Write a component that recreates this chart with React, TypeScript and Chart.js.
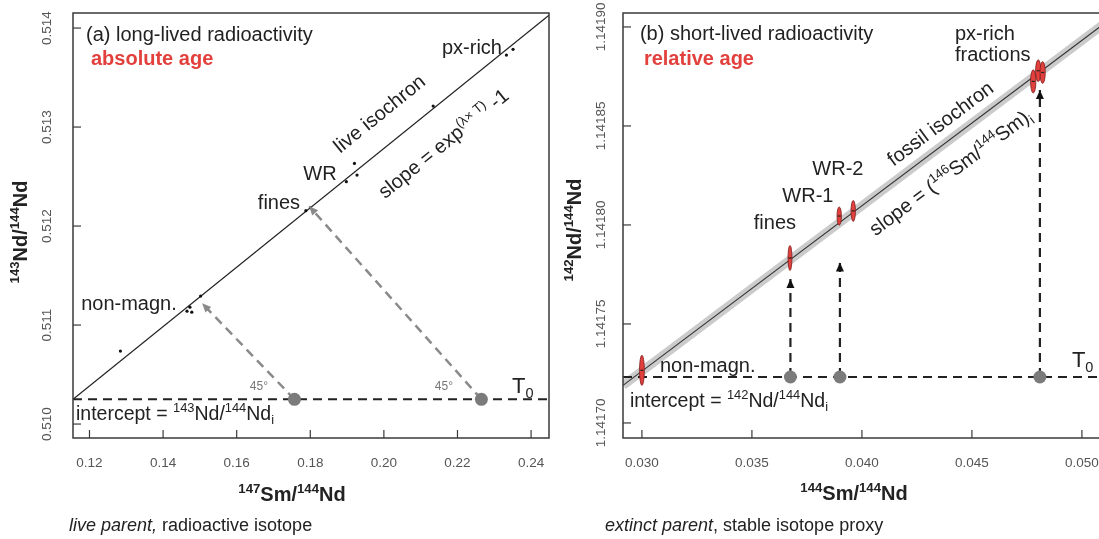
import React, { useEffect, useRef } from "react";
import { Chart, registerables } from "chart.js";
Chart.register(...registerables);

// ---------------- Panel (a): long-lived 147Sm-143Nd ----------------
const aXTicks = [0.12, 0.14, 0.16, 0.18, 0.2, 0.22, 0.24];
const aXTickLabels = ["0.12", "0.14", "0.16", "0.18", "0.20", "0.22", "0.24"];
const aYTicks = [0.51, 0.511, 0.512, 0.513, 0.514];
const aYTickLabels = ["0.510", "0.511", "0.512", "0.513", "0.514"];
const aXRange = [0.11552, 0.24487];
const aYRange = [0.509859, 0.514152];
const aSampleX = [0.1284, 0.1465, 0.1473, 0.1478, 0.1502, 0.1788, 0.1898, 0.192, 0.1927, 0.2134, 0.2333, 0.2351];
const aSampleY = [0.510737, 0.51114, 0.51118, 0.51113, 0.511293, 0.512155, 0.512448, 0.512633, 0.512515, 0.513212, 0.513727, 0.513785];
const aIsoX = [0.11552, 0.24487];
const aIsoY = [0.51025, 0.51413];
const aT0 = 0.51025;
const aDotX = [0.1757, 0.2265];
const aTipX = [0.1506, 0.1797];
const aTipY = [0.51122, 0.5122];

// ---------------- Panel (b): short-lived 146Sm-142Nd ----------------
const bXTicks = [0.03, 0.035, 0.04, 0.045, 0.05];
const bXTickLabels = ["0.030", "0.035", "0.040", "0.045", "0.050"];
const bYTicks = [1.1417, 1.14175, 1.1418, 1.14185, 1.1419];
const bYTickLabels = ["1.14170", "1.14175", "1.14180", "1.14185", "1.14190"];
const bXRange = [0.02914, 0.051049];
const bYRange = [1.1416924, 1.14190705];
const bSampleNames = ["non-magn.", "fines", "WR-1", "WR-2", "px-rich 1", "px-rich 2", "px-rich 3"];
const bSampleX = [0.03, 0.03673, 0.038968, 0.039605, 0.047786, 0.048014, 0.048214];
const bSampleY = [1.1417266, 1.1417833, 1.1418045, 1.1418071, 1.1418725, 1.1418779, 1.141877];
const bSampleXErr = [0.00011, 0.00009, 0.0001, 0.0001, 0.00012, 0.00012, 0.00012];
const bSampleYErr = [0.0000076, 0.0000063, 0.0000046, 0.0000053, 0.0000059, 0.0000055, 0.0000055];
const bIsoX = [0.02914, 0.051049];
const bIsoY = [1.141719, 1.141902];
const bT0 = 1.1417232;
const bDotX = [0.03675, 0.039, 0.04809];
const bTipY = [1.1417727, 1.141781, 1.1418682];

const FONT = '"Liberation Sans", Arial, Helvetica, sans-serif';
const RED = "#e2403c";
const INK = "#222222";

type Seg = { t: string; sup?: boolean; sub?: boolean; it?: boolean };
type Label = {
  segs: Seg[];
  x: number;
  y: number;
  size: number;
  align?: "left" | "center" | "right";
  rot?: number;
  color?: string;
  bold?: boolean;
  px?: boolean;
};

function fontFor(s: Seg, size: number, bold?: boolean) {
  const sz = s.sup || s.sub ? size * 0.66 : size;
  return `${s.it ? "italic " : ""}${bold ? "bold " : ""}${sz}px ${FONT}`;
}

function drawRich(ctx: CanvasRenderingContext2D, l: Label, X: number, Y: number) {
  ctx.save();
  ctx.translate(X, Y);
  if (l.rot) ctx.rotate((l.rot * Math.PI) / 180);
  const ws: number[] = [];
  let total = 0;
  for (const s of l.segs) {
    ctx.font = fontFor(s, l.size, l.bold);
    const w = ctx.measureText(s.t).width;
    ws.push(w);
    total += w;
  }
  let x = l.align === "left" ? 0 : l.align === "right" ? -total : -total / 2;
  ctx.fillStyle = l.color || INK;
  ctx.textAlign = "left";
  ctx.textBaseline = "alphabetic";
  const base = l.size * 0.36;
  l.segs.forEach((s, i) => {
    ctx.font = fontFor(s, l.size, l.bold);
    let dy = base;
    if (s.sup) dy -= l.size * 0.4;
    if (s.sub) dy += l.size * 0.22;
    ctx.fillText(s.t, x, dy);
    x += ws[i];
  });
  ctx.restore();
}

function arrowHead(ctx: CanvasRenderingContext2D, x0: number, y0: number, x1: number, y1: number, color: string, len: number, half: number) {
  const a = Math.atan2(y1 - y0, x1 - x0);
  ctx.save();
  ctx.fillStyle = color;
  ctx.beginPath();
  ctx.moveTo(x1, y1);
  ctx.lineTo(x1 - len * Math.cos(a) + half * Math.sin(a), y1 - len * Math.sin(a) - half * Math.cos(a));
  ctx.lineTo(x1 - len * Math.cos(a) - half * Math.sin(a), y1 - len * Math.sin(a) + half * Math.cos(a));
  ctx.closePath();
  ctx.fill();
  ctx.restore();
}

type PanelSpec = {
  xRange: number[];
  yRange: number[];
  xTicks: number[];
  xTickLabels: string[];
  yTicks: number[];
  yTickLabels: string[];
  yAxisWidth: number;
  padRight: number;
  yLabelOffset: number;
  labels: Label[];
  datasets: any[];
  extra: (chart: any, P: (x: number, y: number) => [number, number]) => void;
};

function makeConfig(p: PanelSpec): any {
  const overlay = {
    id: "overlay",
    afterDatasetsDraw(chart: any) {
      const ctx: CanvasRenderingContext2D = chart.ctx;
      const xs = chart.scales.x;
      const ys = chart.scales.y;
      const P = (x: number, y: number): [number, number] => [xs.getPixelForValue(x), ys.getPixelForValue(y)];
      const ca = chart.chartArea;
      p.extra(chart, P);
      // frame
      ctx.save();
      ctx.strokeStyle = "#3a3a3a";
      ctx.lineWidth = 1.5;
      ctx.strokeRect(ca.left, ca.top, ca.right - ca.left, ca.bottom - ca.top);
      // inward ticks + labels
      ctx.lineWidth = 1.2;
      ctx.fillStyle = "#555";
      ctx.font = `13.5px ${FONT}`;
      ctx.textAlign = "center";
      ctx.textBaseline = "middle";
      xs.ticks.forEach((t: any, i: number) => {
        const x = xs.getPixelForValue(t.value);
        ctx.beginPath();
        ctx.moveTo(x, ca.bottom);
        ctx.lineTo(x, ca.bottom - 8);
        ctx.stroke();
        ctx.fillText(p.xTickLabels[i], x, ca.bottom + 25);
      });
      ys.ticks.forEach((t: any, i: number) => {
        const y = ys.getPixelForValue(t.value);
        ctx.beginPath();
        ctx.moveTo(ca.left, y);
        ctx.lineTo(ca.left + 8, y);
        ctx.stroke();
        ctx.save();
        ctx.translate(ca.left - p.yLabelOffset, y);
        ctx.rotate(-Math.PI / 2);
        ctx.fillText(p.yTickLabels[i], 0, 0);
        ctx.restore();
      });
      ctx.restore();
      for (const l of p.labels) {
        const [X, Y] = l.px ? [l.x, l.y] : P(l.x, l.y);
        drawRich(ctx, l, X, Y);
      }
    },
  };
  return {
    type: "scatter",
    data: { datasets: p.datasets },
    options: {
      animation: false,
      responsive: false,
      events: [],
      layout: { padding: { top: 13, right: p.padRight, left: 0, bottom: 0 } },
      plugins: { legend: { display: false }, tooltip: { enabled: false } },
      scales: {
        x: {
          type: "linear",
          min: p.xRange[0],
          max: p.xRange[1],
          grid: { display: false },
          border: { display: false },
          ticks: { display: false },
          afterBuildTicks: (s: any) => {
            s.ticks = p.xTicks.map((v) => ({ value: v }));
          },
          afterFit: (s: any) => {
            s.height = 101;
          },
        },
        y: {
          type: "linear",
          min: p.yRange[0],
          max: p.yRange[1],
          grid: { display: false },
          border: { display: false },
          ticks: { display: false },
          afterBuildTicks: (s: any) => {
            s.ticks = p.yTicks.map((v) => ({ value: v }));
          },
          afterFit: (s: any) => {
            s.width = p.yAxisWidth;
          },
        },
      },
    },
    plugins: [overlay],
  };
}

const lineDs = (pts: { x: number; y: number }[], color: string, width: number, dash: number[], order: number) => ({
  data: pts,
  showLine: true,
  borderColor: color,
  borderWidth: width,
  borderDash: dash,
  pointRadius: 0,
  fill: false,
  order,
});

const sup = (t: string): Seg => ({ t, sup: true });
const sub = (t: string): Seg => ({ t, sub: true });

const specA: PanelSpec = {
  xRange: aXRange,
  yRange: aYRange,
  xTicks: aXTicks,
  xTickLabels: aXTickLabels,
  yTicks: aYTicks,
  yTickLabels: aYTickLabels,
  yAxisWidth: 73,
  padRight: 11,
  yLabelOffset: 26,
  datasets: [
    {
      data: aDotX.map((x) => ({ x, y: aT0 })),
      pointRadius: 6.5,
      pointBackgroundColor: "#7b7b7b",
      pointBorderWidth: 0,
      order: 0,
    },
    {
      data: aSampleX.map((x, i) => ({ x, y: aSampleY[i] })),
      pointRadius: 1.6,
      pointBackgroundColor: "#111",
      pointBorderWidth: 0,
      order: 1,
    },
    lineDs(aIsoX.map((x, i) => ({ x, y: aIsoY[i] })), "#222", 1.3, [], 2),
    lineDs([{ x: aXRange[0], y: aT0 }, { x: aXRange[1], y: aT0 }], "#222", 2, [9, 6], 3),
    ...aDotX.map((x, i) => lineDs([{ x, y: aT0 }, { x: aTipX[i], y: aTipY[i] }], "#8a8a8a", 2.5, [9, 6], 4)),
  ],
  extra: (chart, P) => {
    const ctx = chart.ctx;
    aDotX.forEach((x, i) => {
      const [x0, y0] = P(x, aT0);
      const [x1, y1] = P(aTipX[i], aTipY[i]);
      arrowHead(ctx, x0, y0, x1, y1, "#8a8a8a", 9, 4);
    });
  },
  labels: [
    { segs: [{ t: "(a) long-lived radioactivity" }], x: 0.11905, y: 0.51394, size: 20, align: "left" },
    { segs: [{ t: "absolute age" }], x: 0.12041, y: 0.513697, size: 20, align: "left", bold: true, color: RED },
    { segs: [{ t: "px-rich" }], x: 0.23209, y: 0.513808, size: 20, align: "right" },
    { segs: [{ t: "live isochron" }], x: 0.19867, y: 0.513141, size: 20, rot: -39 },
    { segs: [{ t: "slope = exp" }, sup("(λ× T)"), { t: " -1" }], x: 0.21606, y: 0.512838, size: 20, rot: -39 },
    { segs: [{ t: "WR" }], x: 0.18264, y: 0.512535, size: 20 },
    { segs: [{ t: "fines" }], x: 0.17149, y: 0.512242, size: 20 },
    { segs: [{ t: "non-magn." }], x: 0.13073, y: 0.511222, size: 20 },
    { segs: [{ t: "intercept = " }, sup("143"), { t: "Nd/" }, sup("144"), { t: "Nd" }, sub("i")], x: 0.11633, y: 0.510111, size: 19.5, align: "left" },
    { segs: [{ t: "45°" }], x: 0.16603, y: 0.510384, size: 12, color: "#777" },
    { segs: [{ t: "45°" }], x: 0.2163, y: 0.510384, size: 12, color: "#777" },
    { segs: [{ t: "T" }, sub("0")], x: 0.23777, y: 0.510394, size: 22 },
    { segs: [sup("143"), { t: "Nd/" }, sup("144"), { t: "Nd" }], x: 20, y: 232, size: 20, bold: true, rot: -90, px: true },
    { segs: [sup("147"), { t: "Sm/" }, sup("144"), { t: "Nd" }], x: 292, y: 494, size: 20, bold: true, px: true },
    { segs: [{ t: "live parent,", it: true }, { t: " radioactive isotope" }], x: 69, y: 525, size: 18, align: "left", px: true },
  ],
};

const specB: PanelSpec = {
  xRange: bXRange,
  yRange: bYRange,
  xTicks: bXTicks,
  xTickLabels: bXTickLabels,
  yTicks: bYTicks,
  yTickLabels: bYTickLabels,
  yAxisWidth: 63,
  padRight: 15,
  yLabelOffset: 22,
  datasets: [
    {
      data: bDotX.map((x) => ({ x, y: bT0 })),
      pointRadius: 6.5,
      pointBackgroundColor: "#7b7b7b",
      pointBorderWidth: 0,
      order: 0,
    },
    {
      label: "samples",
      data: bSampleX.map((x, i) => ({ x, y: bSampleY[i], name: bSampleNames[i] })),
      pointRadius: 0,
      order: 1,
    },
    ...bDotX.map((x, i) => lineDs([{ x, y: bT0 }, { x, y: bTipY[i] }], "#222", 2.2, [9, 6], 2)),
    lineDs([{ x: bXRange[0], y: bT0 }, { x: bXRange[1], y: bT0 }], "#222", 2, [9, 6], 3),
    lineDs(bIsoX.map((x, i) => ({ x, y: bIsoY[i] })), "#333", 1.1, [], 4),
    lineDs(bIsoX.map((x, i) => ({ x, y: bIsoY[i] })), "rgba(190,190,190,0.8)", 9, [], 5),
  ],
  extra: (chart, P) => {
    const ctx: CanvasRenderingContext2D = chart.ctx;
    bDotX.forEach((x, i) => {
      const [x0, y0] = P(x, bT0);
      const [x1, y1] = P(x, bTipY[i]);
      arrowHead(ctx, x0, y0, x1, y1, "#111", 9, 4);
    });
    bSampleX.forEach((x, i) => {
      const [cx, cy] = P(x, bSampleY[i]);
      const rx = Math.abs(P(x + bSampleXErr[i], bSampleY[i])[0] - cx);
      const ry = Math.abs(P(x, bSampleY[i] + bSampleYErr[i])[1] - cy);
      ctx.save();
      ctx.beginPath();
      ctx.ellipse(cx, cy, rx, ry, 0, 0, Math.PI * 2);
      ctx.fillStyle = RED;
      ctx.fill();
      ctx.lineWidth = 0.8;
      ctx.strokeStyle = "#7a1d1d";
      ctx.stroke();
      ctx.fillStyle = "#222";
      ctx.fillRect(cx - 1.5, cy - 0.6, 3, 1.2);
      ctx.restore();
    });
  },
  labels: [
    { segs: [{ t: "(b) short-lived radioactivity" }], x: 0.02991, y: 1.141897, size: 20, align: "left" },
    { segs: [{ t: "relative age" }], x: 0.03009, y: 1.1418843, size: 20, align: "left", bold: true, color: RED },
    { segs: [{ t: "px-rich" }], x: 0.044227, y: 1.141897, size: 20, align: "left" },
    { segs: [{ t: "fractions" }], x: 0.044227, y: 1.1418864, size: 20, align: "left" },
    { segs: [{ t: "fossil isochron" }], x: 0.043545, y: 1.1418515, size: 20, rot: -36.8 },
    { segs: [{ t: "slope = (" }, sup("146"), { t: "Sm/" }, sup("144"), { t: "Sm)" }, sub("i")], x: 0.044, y: 1.1418268, size: 20, rot: -36.8 },
    { segs: [{ t: "WR-2" }], x: 0.038909, y: 1.1418288, size: 20 },
    { segs: [{ t: "WR-1" }], x: 0.037545, y: 1.1418152, size: 20 },
    { segs: [{ t: "fines" }], x: 0.036045, y: 1.1418015, size: 20 },
    { segs: [{ t: "non-magn." }], x: 0.030818, y: 1.1417293, size: 20, align: "left" },
    { segs: [{ t: "intercept = " }, sup("142"), { t: "Nd/" }, sup("144"), { t: "Nd" }, sub("i")], x: 0.029455, y: 1.1417116, size: 19.5, align: "left" },
    { segs: [{ t: "T" }, sub("0")], x: 0.049545, y: 1.1417323, size: 22, align: "left" },
    { segs: [sup("142"), { t: "Nd/" }, sup("144"), { t: "Nd" }], x: 14, y: 230, size: 20, bold: true, rot: -90, px: true },
    { segs: [sup("144"), { t: "Sm/" }, sup("144"), { t: "Nd" }], x: 294, y: 493, size: 20, bold: true, px: true },
    { segs: [{ t: "extinct parent", it: true }, { t: ", stable isotope proxy" }], x: 45, y: 525, size: 18, align: "left", px: true },
  ],
};

function Panel({ spec, left }: { spec: PanelSpec; left: number }) {
  const ref = useRef<HTMLCanvasElement>(null);
  useEffect(() => {
    if (!ref.current) return;
    const chart = new Chart(ref.current, makeConfig(spec));
    return () => chart.destroy();
  }, [spec]);
  return (
    <canvas
      ref={ref}
      width={560}
      height={539}
      style={{ position: "absolute", left, top: 0, width: 560, height: 539 }}
    />
  );
}

export default function App() {
  return (
    <div
      style={{
        position: "fixed",
        left: 0,
        top: 0,
        width: 1099,
        height: 539,
        overflow: "hidden",
        background: "#fff",
      }}
    >
      <Panel spec={specA} left={0} />
      <Panel spec={specB} left={560} />
    </div>
  );
}
